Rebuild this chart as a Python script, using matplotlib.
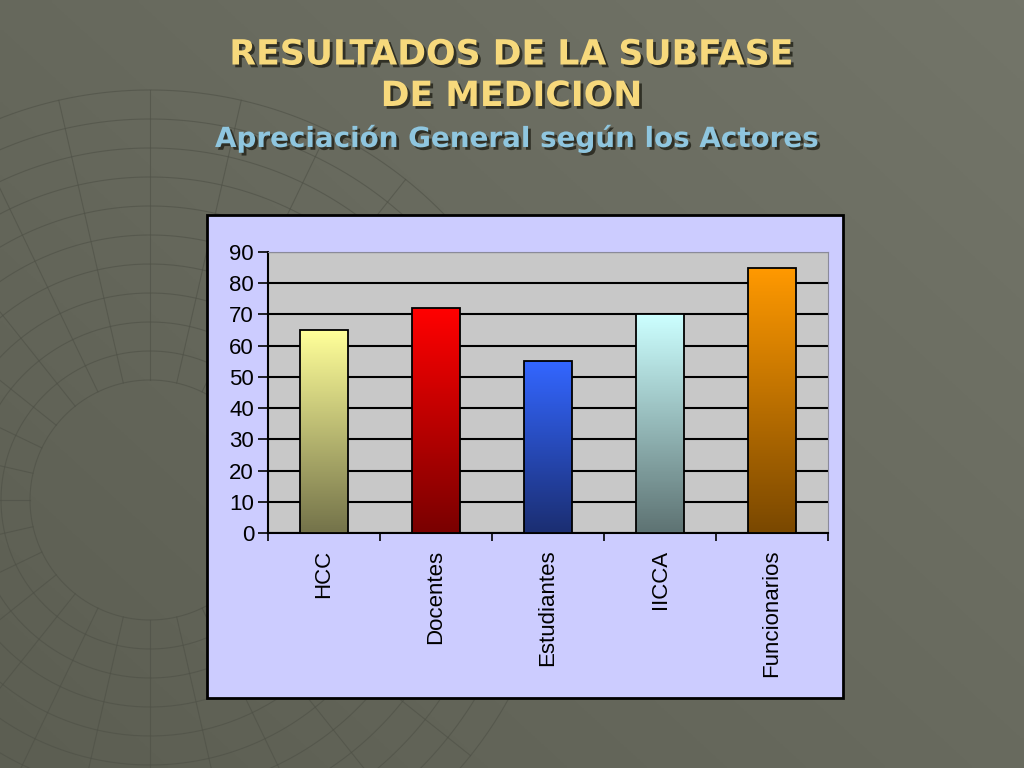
import numpy as np
import matplotlib
matplotlib.use("Agg")
import matplotlib.pyplot as plt
from matplotlib.patches import Rectangle
from matplotlib.colors import LinearSegmentedColormap
import matplotlib.patheffects as pe

# datos
actores = ["HCC", "Docentes", "Estudiantes", "IICCA", "Funcionarios"]
valores = [65, 72, 55, 70, 85]
colores_arriba = ["#ffff99", "#ff0000", "#3366ff", "#ccffff", "#ff9900"]
colores_abajo = ["#74734a", "#7a0000", "#1b2e72", "#5e7373", "#7a4800"]
yticks = [0, 10, 20, 30, 40, 50, 60, 70, 80, 90]

fig = plt.figure(figsize=(10.24, 7.68), dpi=100)

# fondo de la diapositiva
bg = fig.add_axes([0, 0, 1, 1])
bg.set_xlim(0, 1024)
bg.set_ylim(768, 0)
bg.axis("off")
grad = np.linspace(0, 1, 256)
gx, gy = np.meshgrid(grad, grad)
g = 0.55 * gx + 0.45 * (1 - gy)
bg_cmap = LinearSegmentedColormap.from_list("bg", ["#5c5e52", "#737569"])
bg.imshow(g, extent=[0, 1024, 768, 0], cmap=bg_cmap, aspect="auto", zorder=0)

# adorno de malla curva (esfera a la izquierda)
cx, cy = 150, 500
for r in np.linspace(120, 410, 11):
    th = np.linspace(0, 2 * np.pi, 300)
    bg.plot(cx + r * np.cos(th), cy + r * np.sin(th), color="#4e5046",
            lw=0.8, alpha=0.6, zorder=1)
for a in np.linspace(0, 2 * np.pi, 28, endpoint=False):
    rr = np.array([120, 410])
    bg.plot(cx + rr * np.cos(a), cy + rr * np.sin(a), color="#4e5046",
            lw=0.8, alpha=0.6, zorder=1)

# titulos
sombra = [pe.withSimplePatchShadow(offset=(2, -2), shadow_rgbFace="#2a2a20", alpha=0.9)]
fig.text(0.5, 0.929, "RESULTADOS DE LA SUBFASE", ha="center", va="center",
         fontsize=25, fontweight="bold", color="#f7d97c", family="DejaVu Sans",
         path_effects=sombra)
fig.text(0.5, 0.875, "DE MEDICION", ha="center", va="center",
         fontsize=25, fontweight="bold", color="#f7d97c", family="DejaVu Sans",
         path_effects=sombra)
fig.text(0.505, 0.820, "Apreciación General según los Actores", ha="center", va="center",
         fontsize=20, fontweight="bold", color="#8fc6df", family="DejaVu Sans",
         path_effects=sombra)

# panel del grafico
panel = Rectangle((207 / 1024, 1 - 698 / 768), 636 / 1024, 483 / 768,
                  transform=fig.transFigure, facecolor="#ccccff",
                  edgecolor="black", lw=2, zorder=2)
fig.patches.append(panel)

ax = fig.add_axes([268 / 1024, 1 - 533 / 768, 560 / 1024, 281 / 768])
ax.set_zorder(3)
ax.set_facecolor("#c8c8c8")
x = np.arange(len(actores))
barras = ax.bar(x, valores, width=0.42, color="none", edgecolor="black", lw=1.3, zorder=4)
for b, c1, c2 in zip(barras, colores_arriba, colores_abajo):
    cm = LinearSegmentedColormap.from_list("g", [c2, c1])
    x0, y0 = b.get_x(), b.get_y()
    w, h = b.get_width(), b.get_height()
    im = ax.imshow(np.linspace(0, 1, 100).reshape(-1, 1), extent=[x0, x0 + w, y0, y0 + h],
                   origin="lower", cmap=cm, aspect="auto", zorder=3)
    im.set_clip_path(b)

ax.set_xlim(-0.5, len(actores) - 0.5)
ax.set_ylim(0, 90)
ax.set_yticks(yticks)
ax.yaxis.grid(True, color="black", lw=1.5)
ax.set_axisbelow(True)
ax.set_xticks(np.arange(len(actores) + 1) - 0.5, minor=False)
ax.set_xticklabels([])
ax.set_xticks(x, minor=True)
ax.set_xticklabels(actores, minor=True, rotation=90, fontsize=16, family="Liberation Sans")
ax.tick_params(axis="x", which="major", direction="out", length=6, width=1.2)
ax.tick_params(axis="x", which="minor", length=0, pad=12)
ax.tick_params(axis="y", direction="out", length=7, width=1.2, labelsize=16, pad=3)
for t in ax.get_yticklabels():
    t.set_family("Liberation Sans")
for s in ["top", "right"]:
    ax.spines[s].set_color("#8a8a9a")
ax.spines["left"].set_linewidth(1.5)
ax.spines["bottom"].set_linewidth(1.5)

fig.savefig("out.png", dpi=100)
